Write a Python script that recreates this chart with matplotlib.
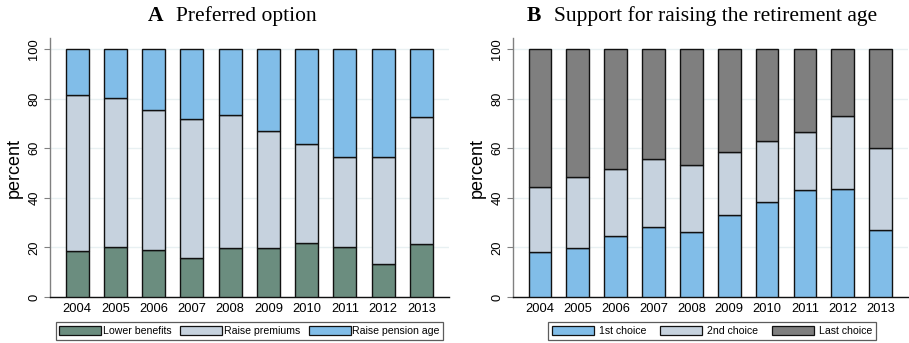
import matplotlib
matplotlib.use("Agg")
import matplotlib.pyplot as plt
from matplotlib.patches import Patch
import numpy as np

years = ["2004", "2005", "2006", "2007", "2008", "2009", "2010", "2011", "2012", "2013"]

# Panel A: preferred option (percent)
lower_benefits = [18.5, 20.0, 19.0, 15.9, 19.6, 19.6, 21.6, 20.0, 13.3, 21.2]
raise_premiums = [63.2, 60.4, 56.4, 56.1, 53.8, 47.3, 40.1, 36.6, 43.0, 51.5]
raise_pension_age = [18.3, 19.6, 24.6, 28.0, 26.6, 33.1, 38.3, 43.4, 43.7, 27.3]

# Panel B: support for raising the retirement age (percent)
first_choice = [18.1, 19.8, 24.5, 28.1, 26.3, 32.9, 38.3, 43.3, 43.4, 27.2]
second_choice = [26.3, 28.5, 27.0, 27.7, 27.1, 25.8, 24.6, 23.2, 29.6, 33.0]
last_choice = [55.6, 51.7, 48.5, 44.2, 46.6, 41.3, 37.1, 33.5, 27.0, 39.8]

C_GREEN = "#6b8d7f"
C_LIGHT = "#c6d2de"
C_BLUE = "#81bde8"
C_GREY = "#7f7f7f"
EDGE = "#111111"

W, H = 909, 343
fig = plt.figure(figsize=(W / 100, H / 100), dpi=100)
fig.patch.set_facecolor("white")

sans = ["Liberation Sans", "DejaVu Sans"]
serif = ["Liberation Serif", "DejaVu Serif"]


def px_axes(x0, x1, y0, y1):
    return fig.add_axes([x0 / W, 1 - y1 / H, (x1 - x0) / W, (y1 - y0) / H])


def draw_panel(ax, series, colors):
    x = np.arange(len(years))
    bottom = np.zeros(len(years))
    for vals, col in zip(series, colors):
        vals = np.asarray(vals)
        ax.bar(x, vals, bottom=bottom, width=0.6, color=col,
               edgecolor=EDGE, linewidth=1.0, zorder=3)
        bottom += vals
    ax.set_xlim(-0.71, 9.72)
    ax.set_ylim(0, 104.5)
    ax.set_yticks([0, 20, 40, 60, 80, 100])
    ax.set_yticklabels(["0", "20", "40", "60", "80", "100"], rotation=90,
                       va="center", family=sans, fontsize=9.3)
    ax.set_xticks(x)
    ax.set_xticklabels(years, family=sans, fontsize=9.3)
    ax.tick_params(axis="x", length=0, pad=4)
    ax.tick_params(axis="y", length=4, width=0.8, color="#808080", pad=3)
    ax.yaxis.grid(True, color="#e8f0f2", linewidth=1.0, zorder=0)
    ax.set_axisbelow(True)
    for s in ("top", "right"):
        ax.spines[s].set_visible(False)
    ax.spines["left"].set_color("#808080")
    ax.spines["left"].set_linewidth(1.0)
    ax.spines["bottom"].set_color("#111111")
    ax.spines["bottom"].set_linewidth(1.0)
    ax.set_ylabel("percent", family=sans, fontsize=13, labelpad=4)


def draw_legend(labels, colors, cx, textpad, colspace):
    handles = [Patch(facecolor=c, edgecolor=EDGE, linewidth=0.9) for c in colors]
    leg = fig.legend(handles, labels, loc="center", bbox_to_anchor=(cx / W, 1 - 331 / H),
                     ncol=3, prop={"family": sans, "size": 7.6}, frameon=True,
                     fancybox=False, edgecolor="#333333", handlelength=4.0,
                     handleheight=1.0, handletextpad=textpad, columnspacing=colspace,
                     borderpad=0.35, borderaxespad=0)
    leg.get_frame().set_linewidth(0.9)


# Panel A
axA = px_axes(50, 449, 38, 297)
draw_panel(axA, [lower_benefits, raise_premiums, raise_pension_age],
           [C_GREEN, C_LIGHT, C_BLUE])
fig.text(148 / W, 1 - 16 / H, "A", family=serif, fontweight="bold", fontsize=15.5,
         va="center", ha="left")
fig.text(176 / W, 1 - 16 / H, "Preferred option", family=serif, fontsize=15.5,
         va="center", ha="left")
draw_legend(["Lower benefits", "Raise premiums", "Raise pension age"],
            [C_GREEN, C_LIGHT, C_BLUE], 249.5, 0.15, 0.8)

# Panel B
axB = px_axes(513, 908, 38, 297)
draw_panel(axB, [first_choice, second_choice, last_choice],
           [C_BLUE, C_LIGHT, C_GREY])
fig.text(527 / W, 1 - 16 / H, "B", family=serif, fontweight="bold", fontsize=15.5,
         va="center", ha="left")
fig.text(554 / W, 1 - 16 / H, "Support for raising the retirement age", family=serif,
         fontsize=15.5, va="center", ha="left")
draw_legend(["1st choice", "2nd choice", "Last choice"],
            [C_BLUE, C_LIGHT, C_GREY], 712, 0.45, 1.3)

fig.savefig("out.png", dpi=100, facecolor="white")
